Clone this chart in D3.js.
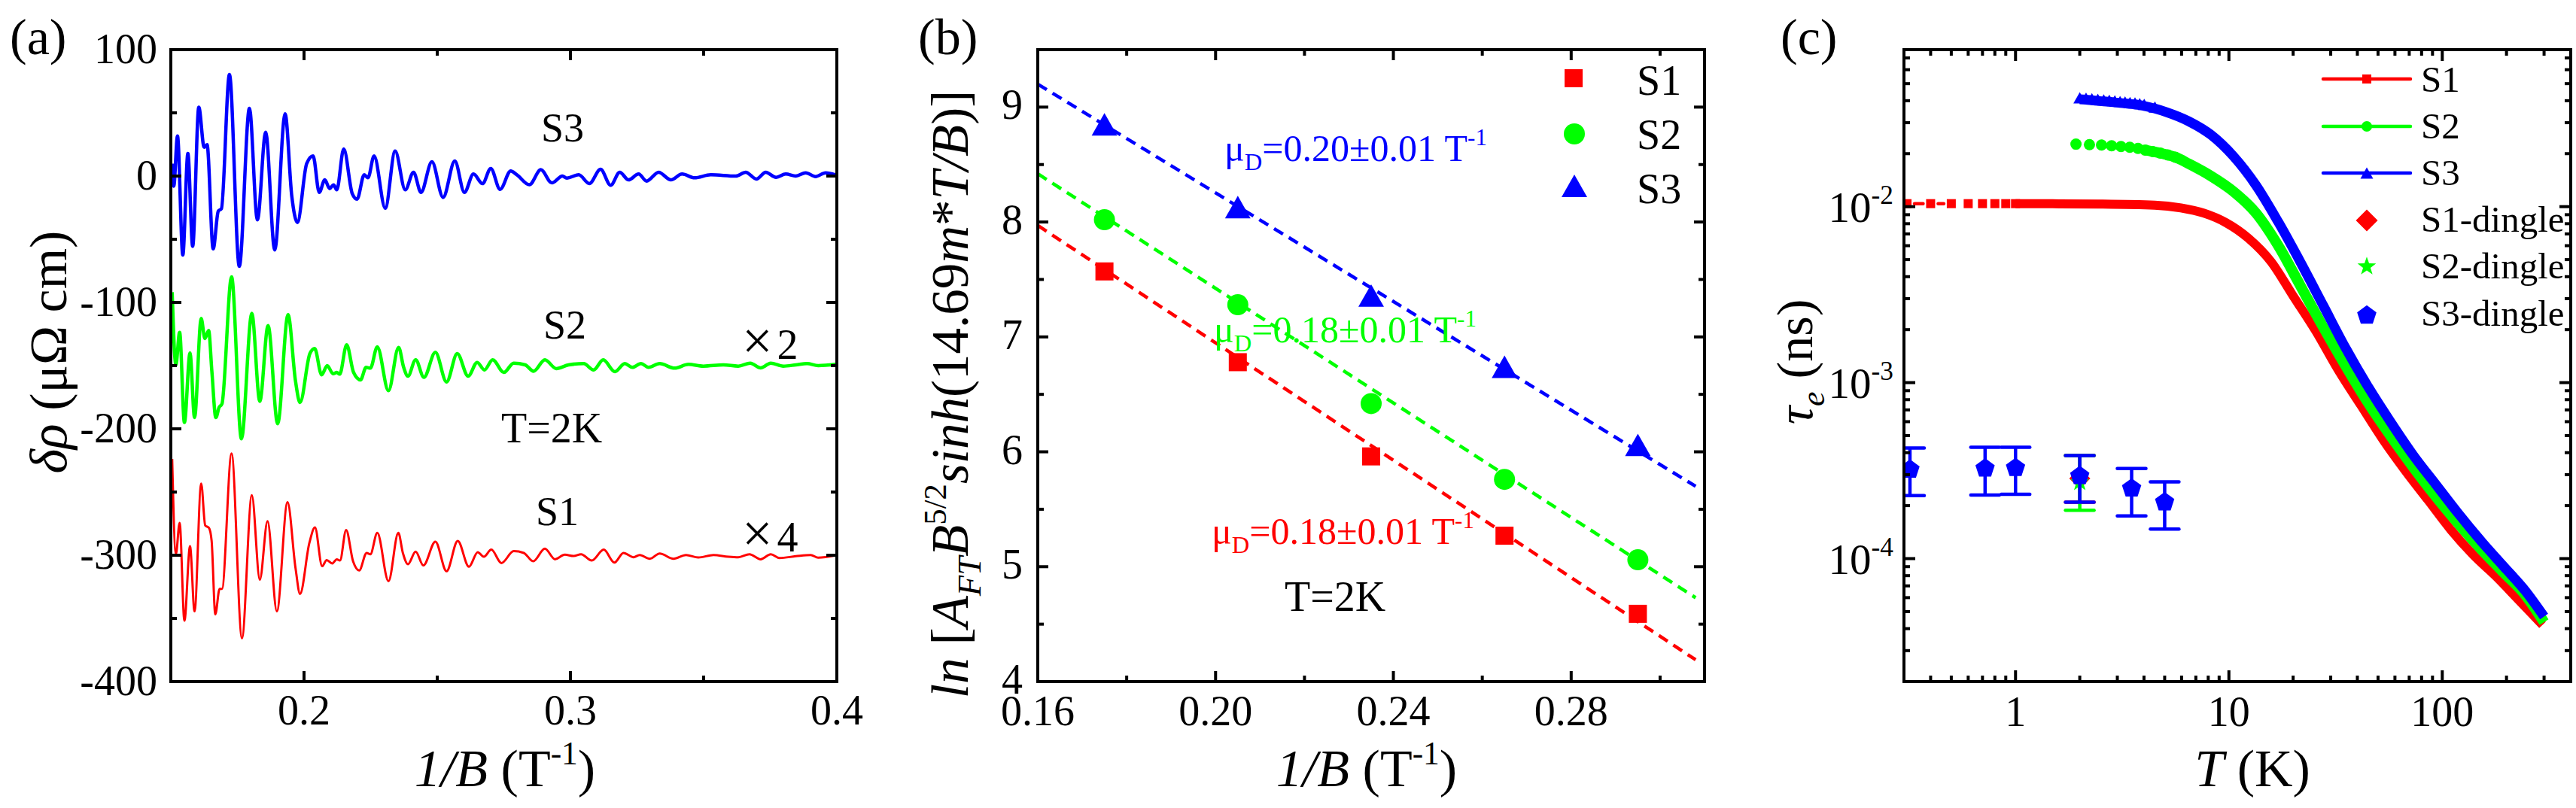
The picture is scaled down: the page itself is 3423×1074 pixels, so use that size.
<!DOCTYPE html>
<html><head><meta charset="utf-8">
<script src="https://cdn.jsdelivr.net/npm/d3@7"></script>
<style>body{margin:0;background:#fff}svg{display:block}text{font-family:"Liberation Serif","Times New Roman",serif;fill:#000}</style>
</head><body><svg id="chart" width="3423" height="1074"></svg>
<script>
// ================= Panel (a): δρ vs 1/B ([1/B, δρ]) =================
const aS3 = [[0.1507,9.9],[0.1511,-8.0],[0.1525,31.7],[0.1545,-62.5],[0.1564,17.8],[0.1582,-55.6],[0.1605,54.5],[0.1625,22.8],[0.1636,24.8],[0.1659,-57.6],[0.1678,-27.8],[0.1690,-25.8],[0.1720,80.3],[0.1757,-71.4],[0.1795,53.6],[0.1825,-34.7],[0.1856,34.7],[0.1890,-58.5],[0.1929,49.2],[0.1954,-15.9],[0.1975,-36.7],[0.2010,9.9],[0.2034,15.9],[0.2057,-12.9],[0.2078,-3.0],[0.2096,-9.9],[0.2111,-7.0],[0.2123,-10.9],[0.2149,21.4],[0.2181,-13.9],[0.2199,-18.3],[0.2226,1.0],[0.2240,-1.4],[0.2263,15.9],[0.2305,-25.4],[0.2342,19.8],[0.2380,-10.9],[0.2411,3.0],[0.2439,-12.9],[0.2480,11.3],[0.2522,-16.9],[0.2566,11.9],[0.2602,-12.9],[0.2636,1.6],[0.2670,-6.0],[0.2701,6.0],[0.2736,-10.5],[0.2776,4.0],[0.2799,1.0],[0.2846,-6.9],[0.2889,5.0],[0.2930,-5.4],[0.2970,0],[0.2986,-1.6],[0.3031,1.0],[0.3071,-6.0],[0.3113,5.4],[0.3151,-7.3],[0.3185,3.0],[0.3218,-3.0],[0.3256,1.6],[0.3286,-4.0],[0.3331,3.0],[0.3377,-3.0],[0.3419,1.6],[0.3466,-1.4],[0.3527,1.0],[0.3621,0],[0.3658,3.0],[0.3698,-2.4],[0.3733,3.0],[0.3772,-1.0],[0.3808,1.6],[0.3846,0],[0.3883,2.6],[0.3920,-0.4],[0.3958,2.6],[0.3995,1.0]];
const aS2 = [[0.1505,-91.9],[0.1519,-149.4],[0.1533,-123.6],[0.1551,-195.0],[0.1572,-140.1],[0.1589,-191.1],[0.1614,-112.7],[0.1628,-128.6],[0.1642,-122.2],[0.1654,-154.4],[0.1669,-191.1],[0.1681,-183.1],[0.1692,-180.2],[0.1728,-79.8],[0.1765,-207.9],[0.1804,-108.7],[0.1834,-178.2],[0.1865,-118.3],[0.1901,-196.0],[0.1940,-109.7],[0.1968,-162.3],[0.1985,-179.2],[0.2022,-140.5],[0.2040,-136.5],[0.2066,-157.3],[0.2087,-150.0],[0.2109,-156.4],[0.2123,-155.4],[0.2134,-156.7],[0.2160,-133.5],[0.2186,-155.4],[0.2212,-161.3],[0.2233,-151.4],[0.2249,-152.0],[0.2275,-135.1],[0.2317,-169.8],[0.2355,-135.5],[0.2374,-151.4],[0.2390,-158.3],[0.2419,-145.4],[0.2450,-159.3],[0.2493,-139.5],[0.2535,-162.9],[0.2575,-140.5],[0.2616,-158.3],[0.2650,-147.4],[0.2677,-153.4],[0.2708,-145.4],[0.2750,-155.4],[0.2787,-148.0],[0.2830,-149.4],[0.2862,-154.4],[0.2904,-145.4],[0.2947,-152.4],[0.2993,-149.4],[0.3050,-148.4],[0.3087,-153.4],[0.3123,-145.4],[0.3167,-154.8],[0.3204,-148.4],[0.3232,-151.4],[0.3265,-148.4],[0.3293,-151.4],[0.3335,-148.4],[0.3391,-152.0],[0.3443,-149.0],[0.3499,-150.4],[0.3574,-149.4],[0.3630,-150.4],[0.3675,-148.0],[0.3714,-151.8],[0.3752,-148.0],[0.3799,-150.4],[0.3846,-149.4],[0.3888,-148.4],[0.3930,-150.0],[0.3995,-149.0]];
const aS1 = [[0.1505,-223.8],[0.1519,-299.2],[0.1533,-274.4],[0.1551,-351.8],[0.1572,-292.9],[0.1589,-344.4],[0.1614,-243.3],[0.1629,-276.4],[0.1643,-278.4],[0.1653,-288.3],[0.1667,-346.8],[0.1683,-326.6],[0.1692,-326.6],[0.1728,-219.5],[0.1767,-365.7],[0.1804,-252.6],[0.1834,-319.4],[0.1863,-273.0],[0.1898,-344.4],[0.1938,-258.1],[0.1968,-310.1],[0.1985,-330.6],[0.2020,-290.3],[0.2041,-278.0],[0.2068,-308.7],[0.2085,-303.8],[0.2106,-306.5],[0.2123,-303.2],[0.2135,-304.2],[0.2158,-280.0],[0.2184,-304.8],[0.2207,-312.1],[0.2235,-298.2],[0.2249,-299.2],[0.2275,-282.3],[0.2317,-320.6],[0.2354,-282.3],[0.2371,-298.2],[0.2390,-307.1],[0.2419,-297.2],[0.2448,-308.1],[0.2493,-289.3],[0.2535,-312.7],[0.2577,-288.7],[0.2619,-309.1],[0.2652,-297.6],[0.2675,-301.2],[0.2703,-295.6],[0.2741,-306.2],[0.2787,-296.8],[0.2825,-298.2],[0.2860,-304.8],[0.2904,-294.8],[0.2942,-303.2],[0.2979,-299.6],[0.3012,-300.6],[0.3040,-299.2],[0.3080,-304.2],[0.3125,-295.6],[0.3165,-305.8],[0.3199,-298.2],[0.3237,-301.6],[0.3260,-299.8],[0.3298,-302.8],[0.3335,-298.6],[0.3387,-302.8],[0.3434,-299.8],[0.3480,-301.8],[0.3537,-299.8],[0.3593,-301.2],[0.3630,-301.6],[0.3672,-299.2],[0.3714,-303.2],[0.3752,-299.2],[0.3785,-302.2],[0.3846,-300.8],[0.3902,-299.8],[0.3930,-302.0],[0.3995,-300.2]];
const aXDomain = [0.15, 0.4];
const aYDomain = [-400, 100];
const aXTicks = [0.2, 0.3, 0.4];
const aXTickLabels = ["0.2", "0.3", "0.4"];
const aXMinor = [0.25, 0.35];
const aYTicks = [-400, -300, -200, -100, 0, 100];
const aYTickLabels = ["-400", "-300", "-200", "-100", "0", "100"];
const aYMinor = [-350, -250, -150, -50, 50];

// ================= Panel (b): Dingle plot =================
const bX = [0.175, 0.205, 0.235, 0.265, 0.295];
const bS1 = [7.57, 6.78, 5.96, 5.27, 4.59];
const bS2 = [8.02, 7.28, 6.42, 5.76, 5.06];
const bS3 = [8.85, 8.13, 7.36, 6.74, 6.06];
const bFitX = [0.16, 0.308];
const bFitS1 = [7.97, 4.19];
const bFitS2 = [8.42, 4.73];
const bFitS3 = [9.20, 5.70];
const bXDomain = [0.16, 0.31];
const bYDomain = [4, 9.5];
const bXTicks = [0.16, 0.20, 0.24, 0.28];
const bXTickLabels = ["0.16", "0.20", "0.24", "0.28"];
const bXMinor = [0.18, 0.22, 0.26, 0.30];
const bYTicks = [4, 5, 6, 7, 8, 9];
const bYTickLabels = ["4", "5", "6", "7", "8", "9"];
const bYMinor = [4.5, 5.5, 6.5, 7.5, 8.5];
const bSeriesNames = ["S1", "S2", "S3"];

// ================= Panel (c): τe vs T =================
const cS1 = [[0.31,0.0104],[0.40,0.0104],[0.50,0.0104],[0.60,0.0104],[0.70,0.0104],[0.80,0.0104],[0.90,0.0104],[1.0,0.0104],[1.2,0.0104],[1.6,0.01038],[2.45,0.01035],[4.49,0.0102],[5.96,0.00983],[7.6,0.0092],[9.69,0.00811],[12.35,0.00661],[15.74,0.00488],[20.07,0.00309],[25.57,0.00196],[32.61,0.001175],[41.53,7.44e-4],[52.97,4.71e-4],[67.5,3.13e-4],[86,2.14e-4],[109.6,1.46e-4],[139.8,1.05e-4],[178.1,7.95e-5],[227,5.86e-5],[295,4.2e-5]];
const cS2 = [[1.92,0.02265],[2.22,0.02252],[2.53,0.0224],[2.82,0.02219],[3.12,0.02197],[3.43,0.02174],[3.75,0.02142],[4.05,0.02098],[4.40,0.02055],[4.77,0.02015],[5.18,0.01965],[5.61,0.0191],[6.47,0.01755],[8.24,0.01493],[10.51,0.01218],[13.39,0.0092],[17.06,0.00598],[21.75,0.00351],[27.71,0.00206],[35.33,0.001237],[45.05,7.63e-4],[57.41,4.95e-4],[73.18,3.30e-4],[93.3,2.25e-4],[118.9,1.58e-4],[151.6,1.134e-4],[193.2,8.36e-5],[246.1,6.17e-5],[300,4.35e-5]];
const cS3 = [[2.0,0.0415],[2.14,0.0413],[2.28,0.0410],[2.43,0.0407],[2.59,0.0404],[2.75,0.0402],[2.92,0.0399],[3.09,0.0396],[3.26,0.0394],[3.44,0.0391],[3.63,0.0389],[3.82,0.0385],[4.01,0.0381],[4.5,0.0368],[5.07,0.0352],[6.47,0.0312],[8.24,0.0261],[10.51,0.0197],[13.39,0.01349],[17.06,0.00832],[21.75,0.00488],[27.71,0.00279],[35.33,0.001594],[45.05,9.6e-4],[57.41,6.07e-4],[73.18,3.94e-4],[93.3,2.69e-4],[118.9,1.84e-4],[151.6,1.288e-4],[193.2,9.26e-5],[246.1,6.65e-5],[300,4.78e-5]];
const cDingleT = [0.32, 0.72, 1.0, 2.0, 3.5, 5.0];
const cDingleS3 = [3.25e-4, 3.30e-4, 3.32e-4, 2.99e-4, 2.54e-4, 2.12e-4];
const cDingleS3Lo = [2.28e-4, 2.30e-4, 2.32e-4, 2.09e-4, 1.75e-4, 1.47e-4];
const cDingleS3Hi = [4.25e-4, 4.29e-4, 4.29e-4, 3.85e-4, 3.25e-4, 2.73e-4];
const cDingleS1T = [2.0], cDingleS1 = [2.85e-4], cDingleS1Lo = [2.09e-4], cDingleS1Hi = [3.85e-4];
const cDingleS2T = [2.0], cDingleS2 = [2.75e-4], cDingleS2Lo = [1.88e-4], cDingleS2Hi = [3.85e-4];
const cXDomain = [0.3, 400];
const cYDomain = [2e-5, 0.078];
const cXTicks = [1, 10, 100];
const cXTickLabels = ["1", "10", "100"];
const cYTicks = [1e-4, 1e-3, 1e-2];
const cYTickExp = ["-4", "-3", "-2"];
const cLegendNames = ["S1", "S2", "S3", "S1-dingle", "S2-dingle", "S3-dingle"];

// ================= drawing =================
const RED = "#ff0000", GREEN = "#00ff00", BLUE = "#0000ff";
const svg = d3.select("#chart");
svg.append("rect").attr("width", 3423).attr("height", 1074).attr("fill", "#fff");
const TICKFS = 56;

function rich(sel, parts, fs) {
  let shift = 0;
  parts.forEach(([t, st = ""]) => {
    let target = 0, size = fs;
    if (st.includes("b")) { target = 0.24 * fs; size = 0.65 * fs; }
    if (st.includes("p")) { target = -0.42 * fs; size = 0.62 * fs; }
    sel.append("tspan").attr("dy", target - shift).attr("font-size", size)
      .attr("font-style", st.includes("i") ? "italic" : "normal").text(t);
    shift = target;
  });
  return sel;
}
function txt(x, y, parts, fs, anchor = "start", color = "#000") {
  const t = svg.append("text").attr("x", x).attr("y", y).attr("font-size", fs)
    .attr("text-anchor", anchor).style("fill", color);
  return rich(t, parts, fs);
}
function vtxt(x, y, parts, fs) {
  const t = svg.append("text").attr("transform", `translate(${x},${y}) rotate(-90)`)
    .attr("font-size", fs).attr("text-anchor", "middle");
  return rich(t, parts, fs);
}
function frameTicks(P, xs, ys, xMaj, xMin, yMaj, yMin, majL = 14, minL = 8) {
  const g = svg.append("g").attr("stroke", "#000").attr("stroke-width", 4);
  const tx = (v, L) => { const x = xs(v);
    g.append("line").attr("x1", x).attr("x2", x).attr("y1", P.b).attr("y2", P.b - L);
    g.append("line").attr("x1", x).attr("x2", x).attr("y1", P.t).attr("y2", P.t + L); };
  const ty = (v, L) => { const y = ys(v);
    g.append("line").attr("y1", y).attr("y2", y).attr("x1", P.l).attr("x2", P.l + L);
    g.append("line").attr("y1", y).attr("y2", y).attr("x1", P.r).attr("x2", P.r - L); };
  xMaj.forEach(v => tx(v, majL)); xMin.forEach(v => tx(v, minL));
  yMaj.forEach(v => ty(v, majL)); yMin.forEach(v => ty(v, minL));
  g.append("rect").attr("x", P.l).attr("y", P.t).attr("width", P.r - P.l).attr("height", P.b - P.t).attr("fill", "none");
}
function clip(id, P) {
  svg.append("clipPath").attr("id", id).append("rect").attr("x", P.l).attr("y", P.t)
    .attr("width", P.r - P.l).attr("height", P.b - P.t);
  return svg.append("g").attr("clip-path", `url(#${id})`);
}
function markerPath(type, s) {
  if (type === "square") return `M${-s/2},${-s/2}h${s}v${s}h${-s}Z`;
  if (type === "circle") return d3.symbol(d3.symbolCircle, Math.PI * s * s / 4)();
  if (type === "triangle") { const h = s * 0.88; return `M0,${-h/2}L${s/2},${h/2}L${-s/2},${h/2}Z`; }
  if (type === "diamond") return `M0,${-s/2}L${s/2},0L0,${s/2}L${-s/2},0Z`;
  if (type === "pentagon") { const r = s / 2; return "M" + d3.range(5).map(k => { const a = -Math.PI/2 + k*2*Math.PI/5; return [r*Math.cos(a), r*Math.sin(a) + r*0.1]; }).join("L") + "Z"; }
  if (type === "star") { const R = s/2, r = s*0.2; return "M" + d3.range(10).map(k => { const a = -Math.PI/2 + k*Math.PI/5, q = k%2 ? r : R; return [q*Math.cos(a), q*Math.sin(a) + R*0.1]; }).join("L") + "Z"; }
}
function marker(g, type, x, y, s, color) {
  g.append("path").attr("d", markerPath(type, s)).attr("transform", `translate(${x},${y})`).attr("fill", color);
}

// ---------- Panel (a) ----------
const PA = { l: 227, r: 1112, t: 66, b: 906 };
const xA = d3.scaleLinear().domain(aXDomain).range([PA.l, PA.r]);
const yA = d3.scaleLinear().domain(aYDomain).range([PA.b, PA.t]);
const gA = clip("clipA", PA);
const lineA = d3.line().x(d => xA(d[0])).y(d => yA(d[1])).curve(d3.curveMonotoneX);
[[aS3, BLUE, 4.5], [aS2, GREEN, 4.5], [aS1, RED, 3]].forEach(([d, c, w]) =>
  gA.append("path").attr("d", lineA(d)).attr("fill", "none").attr("stroke", c).attr("stroke-width", w).attr("stroke-linejoin", "round"));
frameTicks(PA, xA, yA, aXTicks, aXMinor, aYTicks, aYMinor);
aXTicks.forEach((v, i) => txt(xA(v), 963, [[aXTickLabels[i]]], TICKFS, "middle"));
aYTicks.forEach((v, i) => txt(209, yA(v) + 18, [[aYTickLabels[i]]], TICKFS, "end"));
txt(13, 72, [["(a)"]], 68);
txt(719, 188, [["S3"]], 54);
txt(722, 450, [["S2"]], 54);
txt(712, 698, [["S1"]], 54);
txt(666, 588, [["T=2K"]], 56);
{ const t = svg.append("text").attr("x", 986).attr("y", 477);
  t.append("tspan").attr("font-size", 72).text("×"); t.append("tspan").attr("font-size", 56).attr("dx", 6).text("2"); }
{ const t = svg.append("text").attr("x", 986).attr("y", 733);
  t.append("tspan").attr("font-size", 72).text("×"); t.append("tspan").attr("font-size", 56).attr("dx", 6).text("4"); }
txt(671, 1045, [["1/B", "i"], [" (T"], ["-1", "p"], [")"]], 70, "middle");
vtxt(88, 468, [["δρ", "i"], [" (μΩ cm)"]], 70);

// ---------- Panel (b) ----------
const PB = { l: 1379, r: 2265, t: 66, b: 906 };
const xB = d3.scaleLinear().domain(bXDomain).range([PB.l, PB.r]);
const yB = d3.scaleLinear().domain(bYDomain).range([PB.b, PB.t]);
const gB = clip("clipB", PB);
[[bFitS1, RED], [bFitS2, GREEN], [bFitS3, BLUE]].forEach(([f, c]) =>
  gB.append("line").attr("x1", xB(bFitX[0])).attr("x2", xB(bFitX[1])).attr("y1", yB(f[0])).attr("y2", yB(f[1]))
    .attr("stroke", c).attr("stroke-width", 4.5).attr("stroke-dasharray", "14,9"));
bX.forEach((x, i) => {
  marker(gB, "square", xB(x), yB(bS1[i]), 24, RED);
  marker(gB, "circle", xB(x), yB(bS2[i]), 28, GREEN);
  marker(gB, "triangle", xB(x), yB(bS3[i]), 34, BLUE);
});
frameTicks(PB, xB, yB, bXTicks, bXMinor, bYTicks, bYMinor);
bXTicks.forEach((v, i) => txt(xB(v), 964, [[bXTickLabels[i]]], TICKFS, "middle"));
bYTicks.forEach((v, i) => txt(1359, yB(v) + 16, [[bYTickLabels[i]]], TICKFS, "end"));
txt(1220, 72, [["(b)"]], 68);
marker(svg, "square", 2091, 104, 24, RED);
marker(svg, "circle", 2092, 178, 28, GREEN);
marker(svg, "triangle", 2092, 247, 34, BLUE);
bSeriesNames.forEach((n, i) => txt(2175, [126, 198, 270][i], [[n]], 56));
txt(1627, 214, [["μ"], ["D", "b"], ["=0.20±0.01 T"], ["-1", "p"]], 50, "start", BLUE);
txt(1613, 455, [["μ"], ["D", "b"], ["=0.18±0.01 T"], ["-1", "p"]], 50, "start", GREEN);
txt(1610, 723, [["μ"], ["D", "b"], ["=0.18±0.01 T"], ["-1", "p"]], 50, "start", RED);
txt(1707, 812, [["T=2K"]], 56);
txt(1816, 1045, [["1/B", "i"], [" (T"], ["-1", "p"], [")"]], 70, "middle");
vtxt(1286, 524, [["ln", "i"], [" ["], ["A", "i"], ["FT", "ib"], ["B", "i"], ["5/2", "p"], ["sinh", "i"], ["(14.69"], ["m", "i"], ["*"], ["T/B", "i"], [")]"]], 69);

// ---------- Panel (c) ----------
const PC = { l: 2530, r: 3416, t: 66, b: 906 };
const xC = d3.scaleLog().domain(cXDomain).range([PC.l, PC.r]);
const yC = d3.scaleLog().domain(cYDomain).range([PC.b, PC.t]);
const gC = clip("clipC", PC);
const lineC = d3.line().x(d => xC(d[0])).y(d => yC(d[1])).curve(d3.curveMonotoneX);
// S1: short connecting segments between sparse low-T squares, dense band from ~1 K
const s1Low = cS1.filter(d => d[0] <= 1.0);
s1Low.slice(1).forEach((d, i) => {
  const p = s1Low[i], x1 = xC(p[0]) + 10, x2 = xC(d[0]) - 10;
  if (x2 - x1 > 3) gC.append("line").attr("x1", x1).attr("x2", x2).attr("y1", yC(p[1])).attr("y2", yC(d[1]))
    .attr("stroke", RED).attr("stroke-width", 4.5).attr("stroke-linecap", "round");
});
s1Low.forEach(d => marker(gC, "square", xC(d[0]), yC(d[1]), 12, RED));
gC.append("path").attr("d", lineC(cS1.filter(d => d[0] >= 0.95))).attr("fill", "none").attr("stroke", RED).attr("stroke-width", 12).attr("stroke-linejoin", "round");
// S2: separate circles at low T, dense band above ~4 K
gC.append("path").attr("d", lineC(cS2.filter(d => d[0] >= 4.0))).attr("fill", "none").attr("stroke", GREEN).attr("stroke-width", 14).attr("stroke-linejoin", "round");
cS2.filter(d => d[0] < 6).forEach(d => marker(gC, "circle", xC(d[0]), yC(d[1]), 15, GREEN));
// S3: dense triangles at low T on top of the band
gC.append("path").attr("d", lineC(cS3)).attr("fill", "none").attr("stroke", BLUE).attr("stroke-width", 13)
  .attr("stroke-linejoin", "round").attr("transform", "translate(0,2)");
cS3.filter(d => d[0] < 5).forEach(d => marker(gC, "triangle", xC(d[0]), yC(d[1]), 17, BLUE));
// Dingle points with error bars
function errBar(T, lo, hi, color) {
  const x = xC(T);
  gC.append("line").attr("x1", x).attr("x2", x).attr("y1", yC(lo)).attr("y2", yC(hi)).attr("stroke", color).attr("stroke-width", 4.5);
  [lo, hi].forEach(v => gC.append("line").attr("x1", x - 19).attr("x2", x + 19).attr("y1", yC(v)).attr("y2", yC(v)).attr("stroke", color).attr("stroke-width", 4.5).attr("stroke-linecap", "round"));
}
cDingleS1T.forEach((T, i) => errBar(T, cDingleS1Lo[i], cDingleS1Hi[i], RED));
cDingleS2T.forEach((T, i) => errBar(T, cDingleS2Lo[i], cDingleS2Hi[i], GREEN));
cDingleS1T.forEach((T, i) => marker(gC, "diamond", xC(T), yC(cDingleS1[i]), 28, RED));
cDingleS2T.forEach((T, i) => marker(gC, "star", xC(T), yC(cDingleS2[i]), 26, GREEN));
cDingleT.forEach((T, i) => errBar(T, cDingleS3Lo[i], cDingleS3Hi[i], BLUE));
cDingleT.forEach((T, i) => marker(gC, "pentagon", xC(T), yC(cDingleS3[i]), 27, BLUE));
const cxMinor = xC.ticks().filter(v => !cXTicks.some(m => Math.abs(m - v) < 1e-9));
const cyMinor = yC.ticks().filter(v => !cYTicks.some(m => Math.abs(m / v - 1) < 1e-6));
frameTicks(PC, xC, yC, cXTicks, cxMinor, cYTicks, cyMinor, 15, 8);
cXTicks.forEach((v, i) => txt(xC(v), 965, [[cXTickLabels[i]]], TICKFS, "middle"));
cYTicks.forEach((v, i) => txt(2516, yC(v) + 20, [["10"], [cYTickExp[i], "p"]], 57, "end"));
txt(2366, 72, [["(c)"]], 68);
// legend
const legY = [105, 168, 230];
[[RED, "square", 12], [GREEN, "circle", 14], [BLUE, "triangle", 17]].forEach(([c, m, s], i) => {
  svg.append("line").attr("x1", 3087).attr("x2", 3203).attr("y1", legY[i]).attr("y2", legY[i]).attr("stroke", c).attr("stroke-width", 4.5).attr("stroke-linecap", "round");
  marker(svg, m, 3145, legY[i], s, c);
});
const legY2 = [293, 353, 418];
[[RED, "diamond", 29], [GREEN, "star", 26], [BLUE, "pentagon", 27]].forEach(([c, m, s], i) => marker(svg, m, 3145, legY2[i], s, c));
cLegendNames.forEach((n, i) => txt(3217, [122, 184, 246, 308, 370, 433][i], [[n]], 49));
txt(2993, 1045, [["T", "i"], [" (K)"]], 70, "middle");
vtxt(2408, 481, [["τ", "i"], ["e", "ib"], [" (ns)"]], 68);
</script></body></html>
